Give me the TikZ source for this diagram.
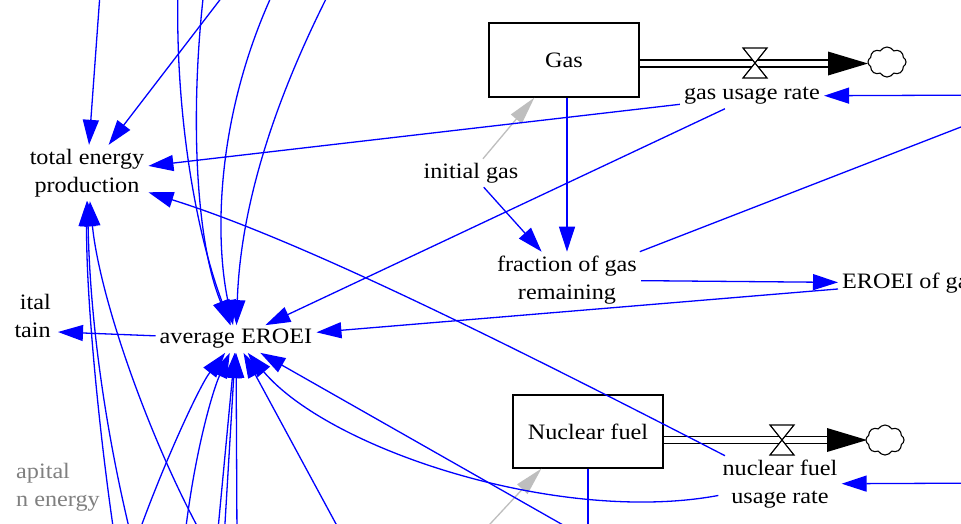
\documentclass[tikz,border=0pt]{standalone}
\usepackage{fontspec}
\setmainfont{Liberation Serif}[FakeStretch=1.1]
\usetikzlibrary{arrows.meta,shapes.symbols,calc}
\definecolor{vblue}{RGB}{0,0,255}
\definecolor{vgrey}{RGB}{190,190,190}
\definecolor{vtext}{RGB}{128,128,128}
\begin{document}
\begin{tikzpicture}[x=1pt,y=-1pt,
  lbl/.style={font=\fontsize{22}{28}\selectfont, align=center, inner sep=4pt},
  stock/.style={draw=black, line width=1.3pt, minimum width=150pt, minimum height=74pt, font=\fontsize{22}{28}\selectfont, inner sep=0pt},
  conn/.style={draw=vblue, line width=1.3pt, -{Triangle[length=25pt,width=16pt]}},
  shadowconn/.style={draw=vgrey, line width=1.3pt, -{Triangle[length=28pt,width=14pt]}},
  pipe/.style={draw=black, line width=1.2pt},
  valve/.style={draw=black, line width=1.2pt, fill=white},
  cloudy/.style={cloud, cloud puffs=8, cloud puff arc=120, draw=black, line width=1.1pt, fill=white, minimum width=38pt, minimum height=30pt, inner sep=0pt}
]
\useasboundingbox (0,0) rectangle (961,523);
\fill[white] (0,0) rectangle (961,523);

% ---------- stocks ----------
\node[stock] (gas) at (564,60) {Gas};
\node[stock, minimum height=73pt] (nuc) at (588,431.5) {Nuclear fuel};

% ---------- variables ----------
\node[lbl] (gur) at (752,96) {gas usage rate};
\node[lbl] (nur) at (780,484) {nuclear fuel\\usage rate};
\node[lbl] (ig) at (471,173) {initial gas};
\node[lbl] (fgr) at (567,280) {fraction of gas\\remaining};
\node[lbl, anchor=west] (eg) at (838,283) {EROEI of gas};
\node[lbl] (aer) at (236,339) {average EROEI};
\node[lbl] (tep) at (87,173) {total energy\\production};
\node[lbl, anchor=east, align=right] (capm) at (55,316) {ital\\tain};
\node[lbl, anchor=west, align=left, text=vtext] (capg) at (12,487) {apital\\n energy};

% ---------- flows ----------
\draw[pipe] (gas.east |- 0,60) -- (830,60);
\draw[pipe] (gas.east |- 0,67) -- (830,67);
\fill[black] (828,51.5) -- (868,63.5) -- (828,75.5) -- cycle;
\node[cloudy] (gcloud) at (887,62) {};
\draw[valve] (743,48) -- (767,48) -- (743,78) -- (767,78) -- cycle;

\draw[pipe] (nuc.east |- 0,436.5) -- (829,436.5);
\draw[pipe] (nuc.east |- 0,443.5) -- (829,443.5);
\fill[black] (827,428) -- (867,440) -- (827,452) -- cycle;
\node[cloudy] (ncloud) at (885,440) {};
\draw[valve] (770,425) -- (794,425) -- (770,455) -- (794,455) -- cycle;

% ---------- off-screen ends ----------
\coordinate (offR1) at (1100,73);
\coordinate (offR2) at (1000,95);
\coordinate (offR3) at (1000,483);
\coordinate (capin) at (58,332);
\coordinate (t0) at (101,-20);
\coordinate (t0b) at (229,-12);
\coordinate (ta) at (178,-10);
\coordinate (tb) at (204,-10);
\coordinate (td) at (272,-5);
\coordinate (te) at (328,-5);
\coordinate (b1) at (138,535);
\coordinate (b2) at (185,535);
\coordinate (b3a) at (217,540);
\coordinate (b3b) at (224,540);
\coordinate (b3c) at (237,540);
\coordinate (b4) at (342,535);
\coordinate (b5) at (600,546);
\coordinate (b6) at (115,540);
\coordinate (b7) at (132,540);
\coordinate (b8) at (202,535);
\coordinate (gsrc) at (478,537);
\coordinate (bnuc) at (588,570);

% ---------- connectors ----------
\draw[conn] (gas.south -| fgr.north) -- (fgr.north);
\draw[conn] (ig) -- (fgr);
\draw[shadowconn] (ig) -- ($(gas.south west)+(46,0)$);
\draw[shadowconn] (gsrc) -- ($(nuc.south west)+(29,0)$);
\draw[conn] (fgr) -- (eg);
\draw[conn] (fgr) -- (offR1);
\draw[conn] (offR2) -- (gur);
\draw[conn] (offR3) -- (nur);
\draw[conn] (gur) -- (tep);
\draw[conn] (gur) -- (aer);
\draw[conn] (eg) -- (aer);
\draw[conn] (nur) .. controls (500,340) and (300,240) .. (tep);
\draw[conn] (aer) -- (capin);
\draw[conn] (nuc.south) -- (bnuc);

% into total energy production
\draw[conn] (t0) -- (tep);
\draw[conn] (t0b) -- (tep);
\draw[conn] (b6) .. controls (100,440) and (86,300) .. (tep);
\draw[conn] (b7) .. controls (105,430) and (90,320) .. (tep);
\draw[conn] (b8) .. controls (150,440) and (100,300) .. (tep);

% into average EROEI from above
\draw[conn] (ta) .. controls (175,110) and (195,230) .. (aer);
\draw[conn] (tb) .. controls (190,110) and (195,240) .. (aer);
\draw[conn] (td) .. controls (215,120) and (215,240) .. (aer);
\draw[conn] (te) .. controls (265,120) and (240,220) .. (aer);

% into average EROEI from below
\draw[conn] (b1) .. controls (165,460) and (200,385) .. (aer);
\draw[conn] (b2) .. controls (195,450) and (213,390) .. (aer);
\draw[conn] (b3a) -- (aer);
\draw[conn] (b3b) -- (aer);
\draw[conn] (b3c) -- (aer);
\draw[conn] (b4) -- (aer);
\draw[conn] (b5) -- (aer);
\draw[conn] (nur) .. controls (560,525) and (330,450) .. (aer);
\end{tikzpicture}
\end{document}
